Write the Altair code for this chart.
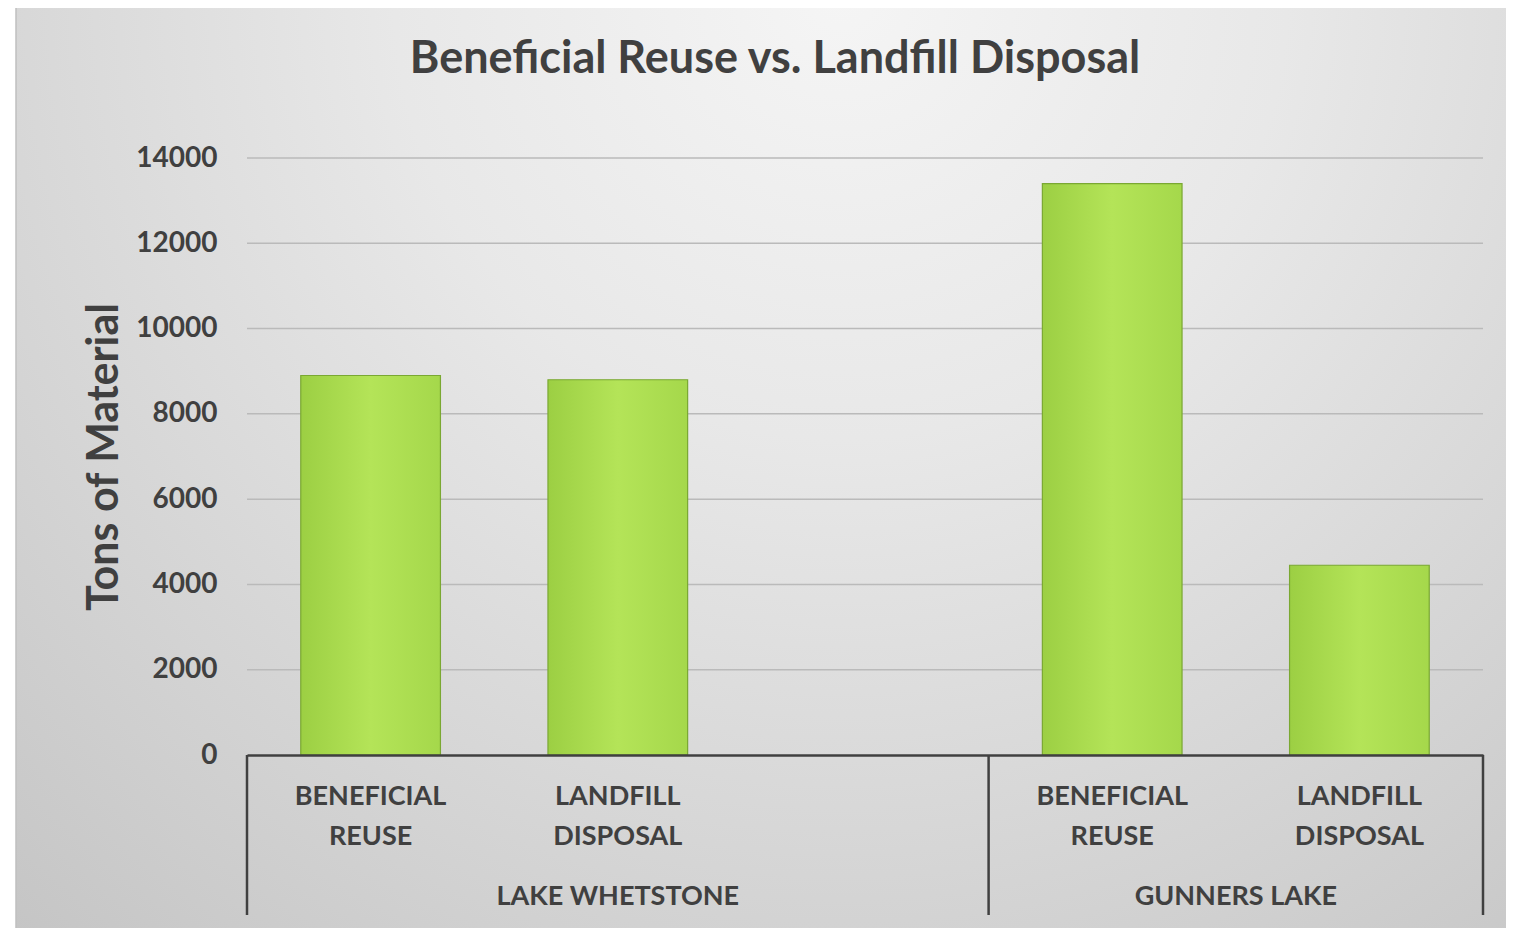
import altair as alt
import pandas as pd

# ---- data ----
groups = ["LAKE WHETSTONE", "LAKE WHETSTONE", "GUNNERS LAKE", "GUNNERS LAKE"]
categories = ["BENEFICIAL REUSE", "LANDFILL DISPOSAL", "BENEFICIAL REUSE", "LANDFILL DISPOSAL"]
tons = [8900, 8800, 13400, 4450]
group_names = ["LAKE WHETSTONE", "GUNNERS LAKE"]
y_ticks = [0, 2000, 4000, 6000, 8000, 10000, 12000, 14000]
title_text = "Beneficial Reuse vs. Landfill Disposal"
y_title = "Tons of Material"

TEXT = "#404040"
FONT = "Lato"
W, H = 1236, 597
PAD_L, PAD_T, PAD_R, PAD_B = 239, 150, 23, 173

keys = [g + "|" + c for g, c in zip(groups, categories)]
# the source chart leaves an empty third slot in the Lake Whetstone group
domain = keys[:2] + ["LAKE WHETSTONE|"] + keys[2:]

df = pd.DataFrame({
    "key": keys,
    "group": groups,
    "category": categories,
    "tons": tons,
    "label": [c.replace(" ", "\n") for c in categories],
})

xscale = alt.Scale(domain=domain, paddingInner=0, paddingOuter=0)
yscale = alt.Scale(domain=[0, 14000])

bg_grad = alt.RadialGradient(
    gradient="radial",
    stops=[alt.GradientStop(offset=0, color="#f5f5f5"),
           alt.GradientStop(offset=0.35, color="#e8e8e8"),
           alt.GradientStop(offset=1, color="#c4c4c4")],
    x1=0.55, y1=0.18, r1=0, x2=0.55, y2=0.18, r2=0.85,
)
background = alt.Chart(pd.DataFrame({"k": [0]})).mark_rect(
    fill=bg_grad, stroke="#c0c0c0", strokeWidth=1.5
).encode(
    x=alt.value(-PAD_L + 8), x2=alt.value(W + PAD_R + 10),
    y=alt.value(-PAD_T - 2), y2=alt.value(H + PAD_B + 10),
)

bar_grad = alt.LinearGradient(
    gradient="linear",
    stops=[alt.GradientStop(offset=0, color="#9ccf43"),
           alt.GradientStop(offset=0.5, color="#b4e458"),
           alt.GradientStop(offset=1, color="#a5d84b")],
    x1=0, x2=1, y1=0, y2=0,
)

bars = alt.Chart(df).mark_bar(
    width=alt.RelativeBandSize(0.565), fill=bar_grad, stroke="#7aa832", strokeWidth=1.2
).encode(
    x=alt.X("key:N", scale=xscale,
            axis=alt.Axis(labels=False, ticks=False, title=None, grid=False,
                          domain=True, domainColor=TEXT, domainWidth=2.5, zindex=1)),
    y=alt.Y("tons:Q", scale=yscale,
            axis=alt.Axis(values=y_ticks, format="d", title=y_title,
                          titleFontSize=43, titleFont=FONT, titleFontWeight="bold",
                          titleColor=TEXT, titlePadding=9,
                          labelFontSize=28, labelFont=FONT, labelFontWeight="bold",
                          labelColor=TEXT, labelPadding=30,
                          domain=False, ticks=False, grid=False, zindex=1)),
    tooltip=["group", "category", "tons"],
)

grid = alt.Chart(pd.DataFrame({"tick": y_ticks[1:]})).mark_rule(
    color="#bababa", strokeWidth=1.5
).encode(y=alt.Y("tick:Q", scale=yscale), x=alt.value(0), x2=alt.value(W))

title = alt.Chart(pd.DataFrame({"t": [title_text]})).mark_text(
    fontSize=45, font=FONT, fontWeight="bold", color=TEXT,
    align="center", baseline="alphabetic"
).encode(x=alt.value(W / 2 - 90), y=alt.value(-85), text="t:N")

cat_labels = alt.Chart(df).mark_text(
    lineBreak="\n", lineHeight=40, fontSize=27, font=FONT, fontWeight="bold",
    color=TEXT, baseline="alphabetic", align="center"
).encode(
    x=alt.X("key:N", scale=xscale),
    y=alt.value(H + 50),
    text="label:N",
)

def slots_of(g):
    return [d for d in domain if d.split("|")[0] == g]

grp_df = pd.DataFrame({"group": group_names})
grp_df["first"] = [slots_of(g)[0] for g in group_names]
grp_df["last"] = [slots_of(g)[-1] for g in group_names]
grp_df["mid"] = [slots_of(g)[len(slots_of(g)) // 2] for g in group_names]
grp_df["n"] = [len(slots_of(g)) for g in group_names]

grp_text_kw = dict(fontSize=27, font=FONT, fontWeight="bold", color=TEXT,
                   baseline="alphabetic", align="center")
grp_odd = alt.Chart(grp_df).transform_filter("datum.n % 2 == 1").mark_text(**grp_text_kw).encode(
    x=alt.X("mid:N", scale=xscale, bandPosition=0.5),
    y=alt.value(H + 150),
    text="group:N",
)
grp_even = alt.Chart(grp_df).transform_filter("datum.n % 2 == 0").mark_text(**grp_text_kw).encode(
    x=alt.X("mid:N", scale=xscale, bandPosition=0),
    y=alt.value(H + 150),
    text="group:N",
)

div_start = alt.Chart(grp_df).mark_rule(color=TEXT, strokeWidth=2.5).encode(
    x=alt.X("first:N", scale=xscale, bandPosition=0),
    y=alt.value(H), y2=alt.value(H + 160),
)
div_end = alt.Chart(grp_df.tail(1)).mark_rule(color=TEXT, strokeWidth=2.5).encode(
    x=alt.X("last:N", scale=xscale, bandPosition=1),
    y=alt.value(H), y2=alt.value(H + 160),
)

chart = alt.layer(
    background, grid, bars, title, cat_labels, grp_odd, grp_even, div_start, div_end
).properties(
    width=W, height=H,
    autosize=alt.AutoSizeParams(type="none"),
    padding={"left": PAD_L, "top": PAD_T, "right": PAD_R, "bottom": PAD_B},
).configure_view(stroke=None).configure(background="#ffffff")

chart.save("out.html", embed_options={"renderer": "svg", "actions": False})
